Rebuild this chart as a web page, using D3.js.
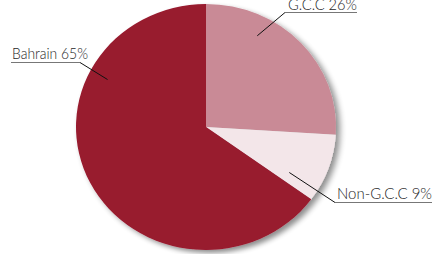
<!DOCTYPE html>
<html>
<head>
<meta charset="utf-8">
<script src="https://cdn.jsdelivr.net/npm/d3@7"></script>
<style>
  html, body { margin: 0; padding: 0; background: #fff; }
  svg { display: block; }
  .lbl { font-family: Lato, "Open Sans", sans-serif; font-size: 15px; font-weight: 300; fill: #262626; }
</style>
</head>
<body>
<svg id="chart"></svg>
<script>
var width = 432,
	height = 254;

// data
var categories = ["G.C.C", "Non-G.C.C", "Bahrain"];
var values = [26, 9, 65];
var colors = ["#c98a96", "#f3e6e9", "#981a2f"];

// where the callouts go: angle (deg, clockwise from top) and radius fraction of leader tip,
// elbow point and text start
var tipAngle = [28, 120, 297];
var tipRadius = [0.84, 0.74, 0.85];
var elbow = [[285, 12.5], [335, 202.5], [80, 62.5]];
var textAt = [[288, 9.5], [337, 198.5], [12, 58.5]];
var textW = [69, 95, 76];
var lineEnd = [357, 432, 11];

var cx = 206, cy = 127, rx = 130, ry = 123;

var svg = d3.select("#chart").attr("width", width).attr("height", height);

var defs = svg.append("defs");
var f = defs.append("filter").attr("id", "shadow").attr("x", "-20%").attr("y", "-20%").attr("width", "140%").attr("height", "140%");
f.append("feGaussianBlur").attr("in", "SourceAlpha").attr("stdDeviation", 3);
f.append("feOffset").attr("dx", 4).attr("dy", 3).attr("result", "ob");
f.append("feComponentTransfer").append("feFuncA").attr("type", "linear").attr("slope", 0.45);
var m = f.append("feMerge");
m.append("feMergeNode");
m.append("feMergeNode").attr("in", "SourceGraphic");

var pie = d3.pie().sort(null).value((d) => d)(values);
var arc = d3.arc().innerRadius(0).outerRadius(rx);

var g = svg.append("g")
	.attr("transform", `translate(${cx},${cy}) scale(1,${ry / rx})`)
	.attr("filter", "url(#shadow)");

g.selectAll("path")
	.data(pie)
	.enter()
	.append("path")
	.attr("d", arc)
	.attr("fill", (d, i) => colors[i]);

var labels = svg.append("g");
categories.forEach((c, i) => {
	let a = (tipAngle[i] * Math.PI) / 180;
	let tx = cx + Math.sin(a) * rx * tipRadius[i],
		ty = cy - Math.cos(a) * ry * tipRadius[i];
	labels.append("line")
		.attr("x1", tx).attr("y1", ty)
		.attr("x2", elbow[i][0]).attr("y2", elbow[i][1])
		.attr("stroke", "#111").attr("stroke-width", 1);
	labels.append("line")
		.attr("x1", elbow[i][0]).attr("y1", elbow[i][1])
		.attr("x2", lineEnd[i]).attr("y2", elbow[i][1])
		.attr("stroke", "#777").attr("stroke-width", 1.2);
	labels.append("text")
		.attr("class", "lbl")
		.attr("x", textAt[i][0]).attr("y", textAt[i][1])
		.attr("textLength", textW[i])
		.attr("lengthAdjust", "spacingAndGlyphs")
		.text(c + " " + values[i] + "%");
});
</script>
</body>
</html>
